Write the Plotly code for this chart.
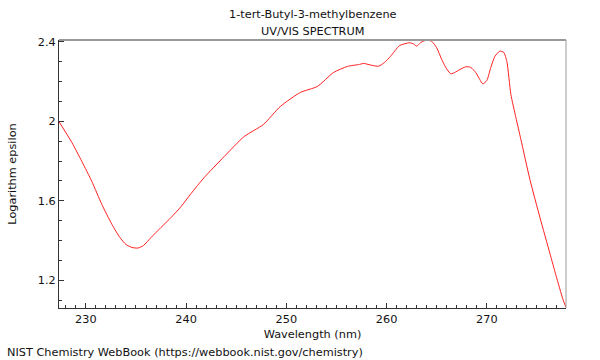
import plotly.graph_objects as go

wavelength = [227.3, 228.6, 229.6, 230.6, 231.6, 232.6, 233.4, 234.0, 234.6, 235.2,
              235.75, 236.5, 237.5, 238.5, 239.5, 240.5, 241.8, 243.8, 245.8, 247.7,
              249.4, 251.4, 253.1, 254.7, 256.1, 257.3, 257.7, 258.4, 259.2, 259.8,
              260.4, 261.3, 262.3, 262.7, 263.0, 263.4, 264.0, 264.5, 265.0, 265.5,
              265.9, 266.4, 266.9, 267.3, 267.9, 268.4, 268.9, 269.3, 269.6, 270.0,
              270.4, 270.8, 271.3, 271.7, 272.0, 272.4, 272.9, 273.4, 274.3, 275.3,
              276.3, 276.9, 277.6, 277.9]
log_eps = [2.000, 1.894, 1.798, 1.697, 1.581, 1.481, 1.415, 1.380, 1.365, 1.362,
           1.375, 1.415, 1.466, 1.516, 1.571, 1.637, 1.717, 1.823, 1.924, 1.984,
           2.075, 2.146, 2.176, 2.246, 2.277, 2.287, 2.292, 2.284, 2.278, 2.297,
           2.328, 2.382, 2.396, 2.390, 2.379, 2.397, 2.410, 2.403, 2.371, 2.312,
           2.272, 2.240, 2.249, 2.261, 2.275, 2.272, 2.246, 2.211, 2.189, 2.206,
           2.272, 2.327, 2.354, 2.347, 2.302, 2.136, 2.020, 1.909, 1.707, 1.516,
           1.334, 1.224, 1.103, 1.063]

title_lines = ["1-tert-Butyl-3-methylbenzene", "UV/VIS SPECTRUM"]
x_label = "Wavelength (nm)"
y_label = "Logarithm epsilon"
footer = "NIST Chemistry WebBook (https://webbook.nist.gov/chemistry)"

FONT = "DejaVu Sans, Verdana, sans-serif"
FS = 11.3

fig = go.Figure()
fig.add_trace(go.Scatter(x=wavelength, y=log_eps, mode="lines",
                         line=dict(color="#ff2020", width=1, shape="spline", smoothing=0.6),
                         hoverinfo="x+y"))

fig.update_layout(
    width=600, height=360,
    margin=dict(l=57, r=34, t=40, b=52),
    paper_bgcolor="white", plot_bgcolor="white",
    showlegend=False,
    font=dict(family=FONT, size=FS, color="#111"),
    xaxis=dict(range=[227.32, 277.9], dtick=10, tick0=230, ticks="inside", ticklen=5,
               tickcolor="#333", showgrid=False, zeroline=False, showline=True,
               linecolor="#333", linewidth=1,
               minor=dict(dtick=1, ticks="inside", ticklen=3, tickcolor="#333"),
               title=dict(text=x_label, standoff=5, font=dict(size=FS)),
               tickfont=dict(size=FS)),
    yaxis=dict(range=[1.06, 2.41], dtick=0.4, tick0=1.2, ticks="inside", ticklen=5,
               tickcolor="#333", showgrid=False, zeroline=False, showline=True,
               linecolor="#333", linewidth=1,
               minor=dict(dtick=0.1, ticks="inside", ticklen=3, tickcolor="#333"),
               title=dict(text=y_label, standoff=18, font=dict(size=FS)),
               tickfont=dict(size=FS)),
)

# top and right box lines (gray)
fig.add_shape(type="line", xref="paper", yref="paper", x0=0, x1=1, y0=1, y1=1,
              line=dict(color="#999", width=2))
fig.add_shape(type="line", xref="paper", yref="paper", x0=1, x1=1, y0=0, y1=1,
              line=dict(color="#999", width=1))

fig.add_annotation(text=title_lines[0], xref="paper", yref="paper", x=0.5, y=1,
                   yshift=26, showarrow=False, xanchor="center", yanchor="middle",
                   font=dict(size=FS, family=FONT, color="#111"))
fig.add_annotation(text=title_lines[1], xref="paper", yref="paper", x=0.5, y=1,
                   yshift=9, showarrow=False, xanchor="center", yanchor="middle",
                   font=dict(size=FS, family=FONT, color="#111"))
fig.add_annotation(text=footer, xref="paper", yref="paper", x=0, y=0,
                   xshift=-54, yshift=-44, showarrow=False, xanchor="left", yanchor="middle",
                   font=dict(size=FS, family=FONT, color="#111"))

fig.write_html("out.html", config={"displayModeBar": False},
               post_script="document.body.style.margin='0';document.body.style.overflow='hidden';")
